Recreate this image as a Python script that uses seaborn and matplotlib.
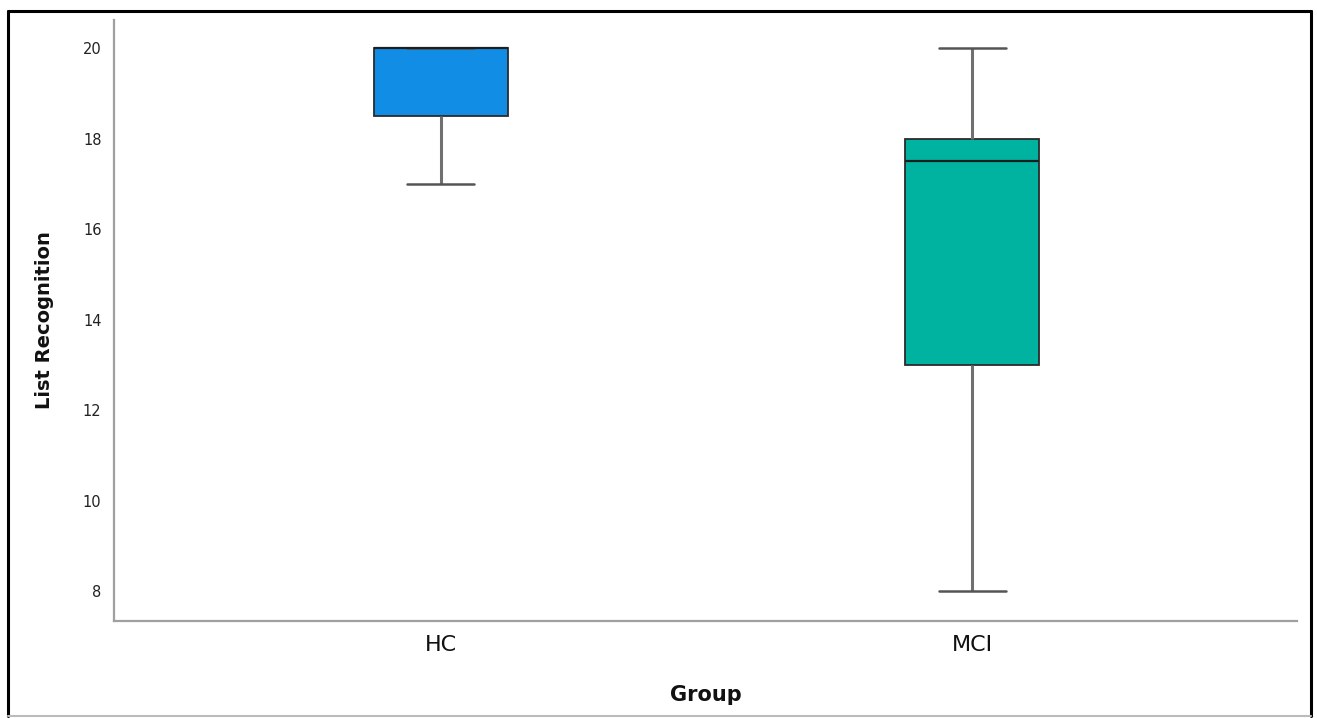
import matplotlib
matplotlib.use("Agg")
import matplotlib.pyplot as plt
from matplotlib.lines import Line2D
import seaborn as sns
import pandas as pd

# Recognition scores per group
groups = ["HC", "MCI"]
hc_scores = [17, 18, 19, 20, 20, 20, 20]
mci_scores = [8, 13, 13, 17, 18, 18, 18, 20]
group_colors = ["#128de5", "#00b3a0"]
y_ticks = [8, 10, 12, 14, 16, 18, 20]

df = pd.DataFrame({
    "Group": ["HC"] * len(hc_scores) + ["MCI"] * len(mci_scores),
    "List Recognition": hc_scores + mci_scores,
})

sns.set_theme(style="white")
plt.rcParams["font.family"] = ["DejaVu Sans"]

fig = plt.figure(figsize=(13.17, 7.18), dpi=100)
ax = fig.add_axes([114 / 1317, 1 - 621 / 718, (1297 - 114) / 1317, (621 - 20) / 718])

sns.boxplot(
    data=df, x="Group", y="List Recognition", hue="Group", order=groups,
    hue_order=groups, palette=dict(zip(groups, group_colors)), saturation=1,
    width=0.252, whis=1.5, showfliers=False, legend=False,
    linewidth=1.3, linecolor="#2b2b2b",
    whiskerprops=dict(color="#707070", linewidth=2.2),
    capprops=dict(color="#555555", linewidth=1.8),
    medianprops=dict(color="#1e1e1e", linewidth=1.6),
    ax=ax,
)

ax.set_xlim(-0.615, 1.611)
ax.set_ylim(7.337, 20.619)
ax.set_yticks(y_ticks)
ax.set_yticklabels([str(t) for t in y_ticks], fontsize=10.5, color="#222222")
ax.tick_params(axis="y", length=0, pad=9)
ax.tick_params(axis="x", length=0, pad=10, labelsize=16, labelcolor="#111111")

for side in ("top", "right"):
    ax.spines[side].set_visible(False)
for side in ("left", "bottom"):
    ax.spines[side].set_color("#a0a0a0")
    ax.spines[side].set_linewidth(1.6)

ax.set_xlabel("Group", fontsize=15, fontweight="bold", labelpad=22, color="#111111")
ax.set_ylabel("List Recognition", fontsize=14, fontweight="bold", labelpad=21, color="#111111")

# Outer frame around the figure
W, H = 1317, 718
fx = lambda px: px / W
fy = lambda py: 1 - py / H
fig.add_artist(Line2D([fx(8), fx(8)], [fy(11), fy(716)], color="black", lw=2.2))
fig.add_artist(Line2D([fx(8), fx(1311)], [fy(11), fy(11)], color="black", lw=2.2))
fig.add_artist(Line2D([fx(1311), fx(1311)], [fy(11), fy(716)], color="black", lw=2.2))
fig.add_artist(Line2D([fx(8), fx(1311)], [fy(716), fy(716)], color="#bbbbbb", lw=1.5))

fig.savefig("out.png", dpi=100)
